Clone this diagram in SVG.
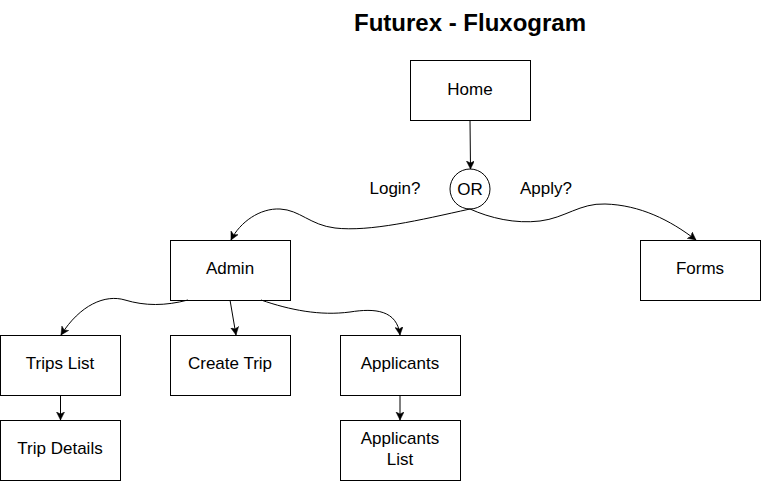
<svg xmlns="http://www.w3.org/2000/svg" width="761" height="481" viewBox="0 0 761 481">
<style>
.box{fill:#ffffff;stroke:#000000;stroke-width:1}
.lbl{font-family:"Liberation Sans",Arial,sans-serif;font-size:17px;fill:#000000;text-anchor:middle}
.title{font-family:"Liberation Sans",Arial,sans-serif;font-size:24px;font-weight:bold;fill:#000000;text-anchor:middle}
.edge{fill:none;stroke:#000000;stroke-width:1;marker-end:url(#arr)}
</style>
<defs>
<marker id="arr" markerUnits="userSpaceOnUse" markerWidth="10" markerHeight="10" viewBox="0 0 10 10" refX="8" refY="4" orient="auto">
<path d="M0,0 L8,4 L0,8 L2,4 Z" fill="#000000" stroke="#000000" stroke-width="0.5"/>
</marker>
</defs>
<rect width="761" height="481" fill="#ffffff"/>
<text class="title" x="470" y="31">Futurex - Fluxogram</text>
<g id="home"><rect class="box" x="410.5" y="60.5" width="120" height="60"/><text class="lbl" x="470" y="95">Home</text></g>
<g id="or"><circle class="box" cx="470" cy="189" r="20"/><text class="lbl" x="470" y="195">OR</text></g>
<g id="login-label"><text class="lbl" x="395" y="194">Login?</text></g>
<g id="apply-label"><text class="lbl" x="546" y="194">Apply?</text></g>
<g id="admin"><rect class="box" x="170.5" y="240.5" width="120" height="60"/><text class="lbl" x="230" y="274">Admin</text></g>
<g id="forms"><rect class="box" x="640.5" y="240.5" width="120" height="60"/><text class="lbl" x="700" y="274">Forms</text></g>
<g id="trips-list"><rect class="box" x="0.5" y="335.5" width="120" height="60"/><text class="lbl" x="60" y="369">Trips List</text></g>
<g id="create-trip"><rect class="box" x="170.5" y="335.5" width="120" height="60"/><text class="lbl" x="230" y="369">Create Trip</text></g>
<g id="applicants"><rect class="box" x="340.5" y="335.5" width="120" height="60"/><text class="lbl" x="400" y="369">Applicants</text></g>
<g id="trip-details"><rect class="box" x="0.5" y="420.5" width="120" height="60"/><text class="lbl" x="60" y="454">Trip Details</text></g>
<g id="applicants-list"><rect class="box" x="340.5" y="420.5" width="120" height="60"/><text class="lbl" x="400" y="444">Applicants</text><text class="lbl" x="400" y="465">List</text></g>
<g id="connectors">
<path class="edge" d="M470,120 L470.5,169"/>
<path class="edge" d="M470,209 C420,220 370,232 335,228 C310,225 300,210 280,209 C260,208 240,222 231,240"/>
<path class="edge" d="M470,209 C490,218 515,224 540,221 C565,218 580,203 605,204 C640,205 670,220 696,240"/>
<path class="edge" d="M188,300 C165,306 145,306 125,300 C105,294 80,305 61,335"/>
<path class="edge" d="M230,300 L236,335"/>
<path class="edge" d="M261,300 C290,310 320,316 350,312 C375,308 397,310 400,335"/>
<path class="edge" d="M60.5,395 L60.5,420"/>
<path class="edge" d="M400,395 L400,420"/>
</g>
</svg>
